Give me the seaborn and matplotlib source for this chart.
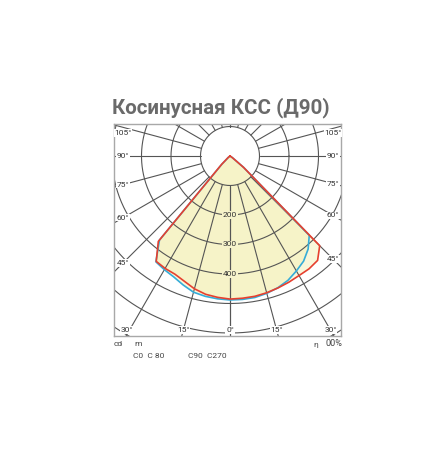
import numpy as np
import pandas as pd
import matplotlib
matplotlib.use("Agg")
import matplotlib.pyplot as plt
import seaborn as sns

# --- данные КСС (кд), углы от вертикали вниз ---
angles = np.arange(0, 95, 5)
c0 = [485, 484, 483, 480, 476, 472, 468, 467, 462, 430, 60, 10, 0, 0, 0, 0, 0, 0, 0]
c180 = [485, 481, 476, 466, 452, 442, 440, 436, 378, 40, 8, 0, 0, 0, 0, 0, 0, 0, 0]
c90 = [488, 488, 487, 482, 475, 465, 450, 435, 412, 380, 60, 10, 0, 0, 0, 0, 0, 0, 0]
c270 = [488, 486, 483, 478, 465, 452, 445, 438, 372, 38, 8, 0, 0, 0, 0, 0, 0, 0, 0]

ring_values = [100, 200, 300, 400, 500, 600, 700, 800]
ring_labels = [200, 300, 400]
grid_angles = list(range(0, 181, 15))
side_labels = [105, 90, 75, 60, 45]
bottom_labels = [-30, -15, 0, 15, 30]

title = "Косинусная КСС (Д90)"
RED = "#e6402f"
BLUE = "#35acd8"
FILL = "#f4f0b7"
GRID = "#555555"

W, H = 443, 466
cx, cy = 230, 156          # центр диаграммы, px
k = 0.295                  # px на кд
fl, fr, ft, fb = 114, 341, 124, 336  # рамка, px


def to_xy(theta_deg, inten, side):
    t = np.radians(theta_deg)
    inten = np.asarray(inten, dtype=float)
    return side * inten * np.sin(t), -inten * np.cos(t)


def build_curve(left, right, name):
    xl, yl = to_xy(angles[::-1], left[::-1], -1)
    xr, yr = to_xy(angles, right, 1)
    return pd.DataFrame({"x": np.r_[xl, xr], "y": np.r_[yl, yr], "plane": name})


df = pd.concat([build_curve(c180, c0, "C0-C180"), build_curve(c270, c90, "C90-C270")],
               ignore_index=True)

sns.set_style("white")
plt.rcParams["font.family"] = ["Roboto", "DejaVu Sans"]

fig = plt.figure(figsize=(W / 100, H / 100), dpi=100)
ax = fig.add_axes([fl / W, 1 - fb / H, (fr - fl) / W, (fb - ft) / H])
ax.set_xlim((fl - cx) / k, (fr - cx) / k)
ax.set_ylim(-(fb - cy) / k, (cy - ft) / k)

# заливка
for name, part in df.groupby("plane"):
    ax.fill(part["x"], part["y"], color=FILL, alpha=0.5, lw=0, zorder=1)

# сетка
tt = np.linspace(0, 2 * np.pi, 400)
for r in ring_values:
    ax.plot(r * np.cos(tt), r * np.sin(tt), color=GRID, lw=0.8, zorder=2)
for a in grid_angles:
    for s in (-1, 1):
        x0, y0 = to_xy(a, 100, s)
        x1, y1 = to_xy(a, 1500, s)
        ax.plot([x0, x1], [y0, y1], color=GRID, lw=0.8, zorder=2)

# кривые (красная поверх синей)
sns.lineplot(data=df, x="x", y="y", hue="plane", hue_order=["C90-C270", "C0-C180"],
             palette={"C0-C180": RED, "C90-C270": BLUE}, sort=False,
             estimator=None, legend=False, lw=1.2, ax=ax, zorder=3)

# подписи колец
for r in ring_labels:
    ax.text(0, -r, str(r), ha="center", va="center", fontsize=6, color="#333333",
            zorder=5, bbox=dict(facecolor="#f6f3cb", edgecolor="none", pad=0.6))

lab_kw = dict(fontsize=6, color="#333333", ha="center", va="center", zorder=5,
              clip_on=False, bbox=dict(facecolor="white", edgecolor="none", pad=0.4))
# боковые подписи углов
for a in side_labels:
    t = np.radians(a)
    for s, edge in ((-1, fl + 9), (1, fr - 8)):
        dx = (edge - cx)
        y_px = cy + abs(dx) * np.cos(t) / np.sin(t)
        y_px = max(y_px, ft + 9)
        ax.text((edge - cx) / k, -(y_px - cy) / k, f"{a}°", **lab_kw)
# нижние подписи углов
for a in bottom_labels:
    y_px = fb - 6
    x_px = cx + (y_px - cy) * np.tan(np.radians(a))
    if a == -30:
        x_px -= 3
    ax.text((x_px - cx) / k, -(y_px - cy) / k, f"{abs(a)}°", **lab_kw)

ax.set_xticks([])
ax.set_yticks([])
ax.set_xlabel("")
ax.set_ylabel("")
for sp in ax.spines.values():
    sp.set_color("#a8a8a8")
    sp.set_linewidth(1.0)

fig.text(221 / W, 1 - 108 / H, title, ha="center", va="center", fontsize=14.8,
         fontweight="bold", color="#6a6a6a")

small = dict(fontsize=6, color="#444444", va="center")
fig.text(114 / W, 1 - 344 / H, "cd", **small)
fig.text(134 / W, 1 - 344 / H, "m", **small)
fig.text(133 / W, 1 - 356 / H, "C0  C 80", **small)
fig.text(188 / W, 1 - 356 / H, "C90  C270", **small)
fig.text(313 / W, 1 - 345 / H, "η", **small)
fig.text(342 / W, 1 - 344 / H, "00%", ha="right", fontsize=6.5, color="#444444", va="center")

fig.savefig("out.png", dpi=100, facecolor="white")
